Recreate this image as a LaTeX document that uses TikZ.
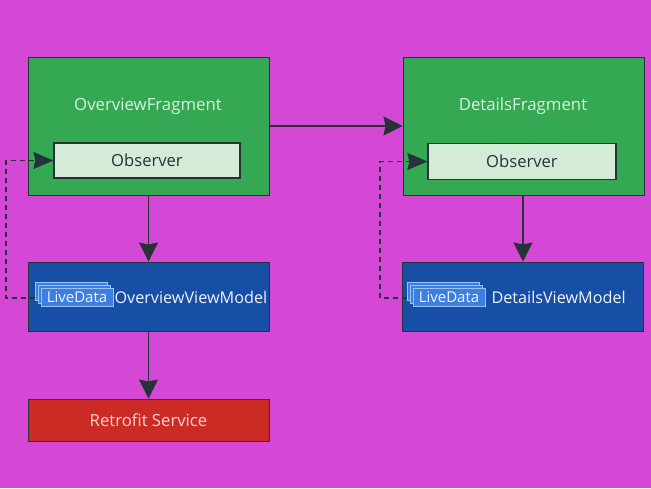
\documentclass[tikz,border=0pt]{standalone}
\usepackage{fontspec}
\setmainfont{Open Sans}
\usetikzlibrary{arrows.meta,positioning}
\definecolor{bgmag}{HTML}{D548D6}
\definecolor{frgreen}{HTML}{34A853}
\definecolor{obsfill}{HTML}{D4EBD8}
\definecolor{vmblue}{HTML}{174EA6}
\definecolor{ldblue}{HTML}{3D7FE0}
\definecolor{ldedge}{HTML}{9CC2F5}
\definecolor{rsred}{HTML}{CC2B25}
\definecolor{lineclr}{HTML}{263238}
\definecolor{txtgreen}{HTML}{D9F2DD}
\definecolor{txtblue}{HTML}{EEF3FC}
\definecolor{txtred}{HTML}{F6D6D2}
\tikzset{
  frag/.style={draw=lineclr, line width=1pt, fill=frgreen, minimum width=241pt, minimum height=138pt, inner sep=0pt},
  obs/.style={draw=lineclr, line width=1.2pt, fill=obsfill, minimum width=186pt, minimum height=35pt, inner sep=0pt, text=lineclr, font=\fontsize{16.6}{18}\selectfont},
  vm/.style={draw=lineclr, line width=1pt, fill=vmblue, minimum width=241pt, minimum height=69pt, inner sep=0pt},
  rs/.style={draw=lineclr, line width=1pt, fill=rsred, minimum width=241pt, minimum height=42pt, inner sep=0pt, text=txtred, font=\fontsize{16.7}{18}\selectfont},
  ld/.style={draw=ldedge, line width=0.8pt, fill=ldblue, minimum width=72pt, minimum height=18pt, inner sep=0pt, text=txtblue, font=\fontsize{15}{16}\selectfont},
  fraglabel/.style={text=txtgreen, font=\fontsize{16.8}{18}\selectfont},
  vmlabel/.style={text=txtblue, font=\fontsize{16.2}{18}\selectfont},
  conn/.style={draw=lineclr, line width=1.2pt, -{Stealth[length=19pt,width=19pt,inset=2pt]}},
  dconn/.style={draw=lineclr, line width=1.2pt, dashed, dash pattern=on 5pt off 4pt, -{Stealth[length=20pt,width=17pt,inset=2pt]}}
}
\begin{document}
\begin{tikzpicture}[x=1pt,y=-1pt]
\useasboundingbox[fill=bgmag] (0,0) rectangle (651,488);
% left column
\node[frag] (of) at (148.5,126) {};
\node[fraglabel] (oflabel) at (148,106) {OverviewFragment};
\node[obs] (oobs) at (147,160.5) {Observer};
\node[vm] (ovm) at (148.5,296.5) {};
\node[ld] (old3) at (71,291) {};
\node[ld] (old2) at (74,294) {};
\node[ld] (old1) at (77,297) {LiveData};
\node[vmlabel, anchor=west] (ovmlabel) at (111,297) {OverviewViewModel};
\node[rs] (rs) at (148.5,420) {Retrofit Service};
% right column
\node[frag] (df) at (523.5,126) {};
\node[fraglabel] (dflabel) at (523,106) {DetailsFragment};
\node[obs, minimum width=188pt, minimum height=36pt] (dobs) at (522,161.5) {Observer};
\node[vm] (dvm) at (523,296.5) {};
\node[ld] (dld3) at (443,291) {};
\node[ld] (dld2) at (446,294) {};
\node[ld] (dld1) at (449,297) {LiveData};
\node[vmlabel, anchor=west] (dvmlabel) at (488,297) {DetailsViewModel};
% connectors
\draw[conn] (of.south) -- (ovm.north);
\draw[conn] (ovm.south) -- (rs.north);
\draw[conn] (of.east) -- (df.west);
\draw[conn] (df.south -| dvm.north) -- (dvm.north);
\coordinate (oc) at (6,298);
\coordinate (dc) at (380,298);
\draw[dconn] (old3.west |- oc) -- (oc) |- (oobs.west);
\draw[dconn] (dld3.west |- dc) -- (dc) |- (dobs.west);
\end{tikzpicture}
\end{document}
